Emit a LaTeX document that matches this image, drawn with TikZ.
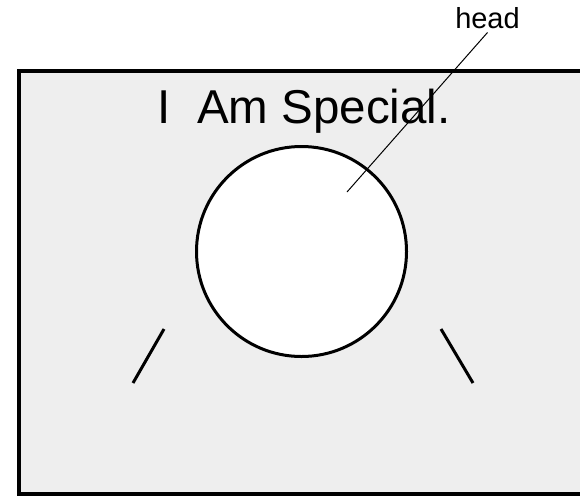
\documentclass[tikz,border=0pt]{standalone}
\usepackage{fontspec}
\setmainfont{Liberation Sans}
\usetikzlibrary{positioning}
\definecolor{panelgray}{RGB}{238,238,238}

\begin{document}
\begin{tikzpicture}[
        x=1pt, y=-1pt,
        panel/.style={draw=black, line width=4pt, fill=panelgray},
        headring/.style={draw=black, line width=3pt, fill=white, circle, minimum size=210pt, inner sep=0pt},
        limb/.style={line width=3pt},
        leader/.style={line width=1pt},
    ]

    % page frame and the grey panel
    \clip (0,0) rectangle (580,496);
    \draw[panel] (19,70.5) rectangle (620,494);

    % title
    \node[anchor=base, inner sep=0pt, font=\fontsize{47.5}{57}\selectfont] (title) at (304,123) {I~ Am Special.};

    % the head
    \node[headring] (head) at (301.5,251.5) {};

    % the two arms
    \foreach \name / \xa / \xb in {L/164/133, R/441/473}
    {
        \coordinate (arm\name-1) at (\xa,329);
        \coordinate (arm\name-2) at (\xb,383);
        \draw[limb] (arm\name-1) -- (arm\name-2);
    }

    % label with its leader line
    \node[anchor=base, inner sep=4pt, font=\fontsize{29}{35}\selectfont] (headlabel) at (487.5,28) {head};
    \coordinate (headpoint) at (347,192);
    \draw[leader] (headlabel.south) -- (headpoint);
\end{tikzpicture}
\end{document}
